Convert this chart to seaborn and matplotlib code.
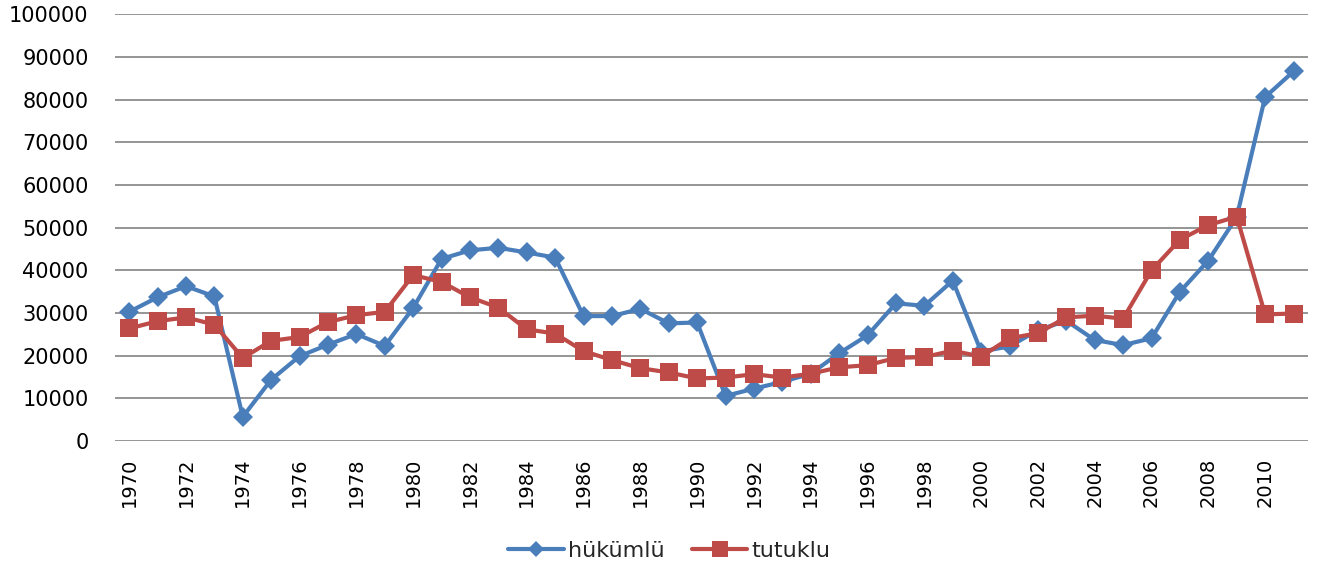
import numpy as np
import pandas as pd
import matplotlib
matplotlib.use('Agg')
import matplotlib.pyplot as plt
import seaborn as sns

years = list(range(1970, 2012))
hukumlu = [30300, 33700, 36300, 33900, 5700, 14400, 19900, 22600, 25100, 22300,
           31200, 42700, 44700, 45300, 44200, 43000, 29300, 29300, 31000, 27600,
           27800, 10600, 12300, 13900, 15800, 20600, 24800, 32300, 31700, 37600,
           21000, 22200, 26000, 28200, 23700, 22500, 24100, 35000, 42300, 52500,
           80600, 86600]
tutuklu = [26400, 28100, 29000, 27300, 19500, 23500, 24400, 27900, 29500, 30300,
           38900, 37300, 33700, 31300, 26200, 25200, 21100, 19000, 17100, 16100,
           14700, 14900, 15700, 14900, 15800, 17300, 17800, 19500, 19700, 21200,
           19800, 24100, 25300, 29000, 29400, 28700, 40000, 47200, 50600, 52600,
           29700, 29900]

df = pd.DataFrame({'yil': years, 'hükümlü': hukumlu, 'tutuklu': tutuklu})

sns.set_style('white')
plt.rcParams['font.family'] = ['DejaVu Sans']

fig = plt.figure(figsize=(13.26, 5.70), dpi=100)
ax = fig.add_axes([0.0867, 0.226, 0.8995, 0.749])

sns.lineplot(data=df, x='yil', y='hükümlü', ax=ax, color='#4A7EBB', linewidth=3,
             marker='D', markersize=10, markeredgewidth=0, label='hükümlü')
sns.lineplot(data=df, x='yil', y='tutuklu', ax=ax, color='#BE4B48', linewidth=3,
             marker='s', markersize=13.5, markeredgewidth=0, label='tutuklu')

ax.set_xlim(1969.5, 2011.5)
ax.set_ylim(0, 100000)
ax.set_yticks(range(0, 100001, 10000))
ax.set_xticks(years[::2])
ax.set_xticklabels([str(y) for y in years[::2]], rotation=90)
ax.tick_params(axis='both', length=0, colors='black')
ax.tick_params(axis='y', labelsize=15, pad=19)
ax.tick_params(axis='x', labelsize=14, pad=12)
ax.yaxis.grid(True, color='#8C8C8C', linewidth=1.3)
ax.set_axisbelow(True)
for s in ax.spines.values():
    s.set_visible(False)
ax.set_xlabel('')
ax.set_ylabel('')

handles, labels = ax.get_legend_handles_labels()
ax.get_legend().remove()
fig.legend(handles, labels, loc='center', bbox_to_anchor=(0.505, 0.033), ncol=2,
           frameon=False, fontsize=16, handlelength=2.5, columnspacing=1.2,
           handletextpad=0.2, markerscale=0.85)

fig.savefig('out.png', dpi=100)
